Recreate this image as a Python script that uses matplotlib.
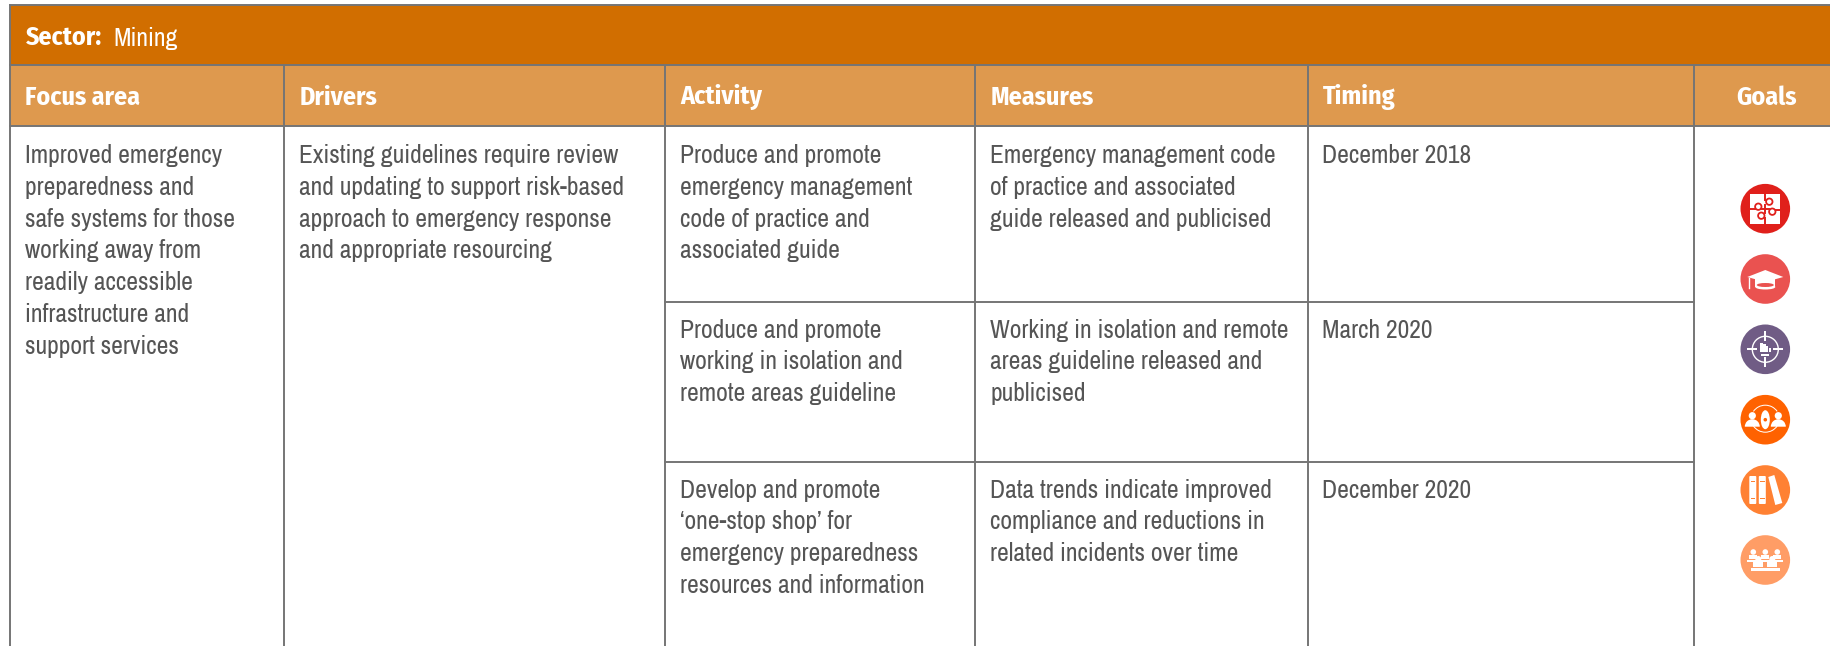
import matplotlib
matplotlib.use("Agg")
import matplotlib.pyplot as plt
from matplotlib.patches import Rectangle, Circle, Polygon, Ellipse, Wedge, FancyBboxPatch

plt.rcParams['font.family'] = ['Archivo Narrow', 'Roboto Condensed', 'Roboto', 'DejaVu Sans']
bold_font = ['Fira Sans Condensed', 'Roboto Condensed', 'Roboto', 'DejaVu Sans']

# Table content
sector_label = "Sector:"
sector_name = "Mining"
headers = ["Focus area", "Drivers", "Activity", "Measures", "Timing", "Goals"]
focus_area = ["Improved emergency", "preparedness and", "safe systems for those",
              "working away from", "readily accessible", "infrastructure and", "support services"]
drivers = ["Existing guidelines require review", "and updating to support risk-based",
           "approach to emergency response", "and appropriate resourcing"]
activities = [
    ["Produce and promote", "emergency management", "code of practice and", "associated guide"],
    ["Produce and promote", "working in isolation and", "remote areas guideline"],
    ["Develop and promote", "\u2018one-stop shop\u2019 for", "emergency preparedness",
     "resources and information"],
]
measures = [
    ["Emergency management code", "of practice and associated", "guide released and publicised"],
    ["Working in isolation and remote", "areas guideline released and", "publicised"],
    ["Data trends indicate improved", "compliance and reductions in", "related incidents over time"],
]
timing = ["December 2018", "March 2020", "December 2020"]
goal_colors = ["#e0201b", "#ea5250", "#705c85", "#ff6200", "#ff8133", "#ff9d66"]

# Layout in pixels
W, H = 1831, 646
col_x = [10.5, 284.5, 665.5, 975.5, 1308, 1694, 1831]
row_y = [126, 301.5, 462, 646]
top, sector_bot = 4.5, 65
pad = 15
line_h = 31.8
text_col = "#555555"
line_col = "#757575"
fs = 18.4
icon_x, icon_r = 1765.3, 24.8
icon_y = [208.7, 279, 349.3, 419.7, 490, 560]

fig = plt.figure(figsize=(W / 100, H / 100), dpi=100)
ax = fig.add_axes([0, 0, 1, 1])
ax.set_xlim(0, W)
ax.set_ylim(H, 0)
ax.axis("off")

# Bands
ax.add_patch(Rectangle((col_x[0], top), W - col_x[0], sector_bot - top, fc="#d16e00", ec="none"))
ax.add_patch(Rectangle((col_x[0], sector_bot), W - col_x[0], row_y[0] - sector_bot, fc="#de994e", ec="none"))

# Grid lines
ax.plot([col_x[0], W], [top, top], color=line_col, lw=1.4)
ax.plot([col_x[0], W], [sector_bot, sector_bot], color=line_col, lw=1.4)
ax.plot([col_x[0], W], [row_y[0], row_y[0]], color=line_col, lw=1.4)
ax.plot([col_x[0], col_x[0]], [top, H], color=line_col, lw=1.4)
for x in col_x[1:6]:
    ax.plot([x, x], [sector_bot, H], color=line_col, lw=1.4)
for y in row_y[1:3]:
    ax.plot([col_x[2], col_x[5]], [y, y], color=line_col, lw=1.4)

# Header text
ax.text(col_x[0] + pad, 38, sector_label, color="white", fontsize=18.6, family=bold_font,
        fontweight="bold", va="center")
ax.text(113, 38, sector_name, color="white", fontsize=fs, va="center")
for i, h in enumerate(headers):
    x = col_x[i] + pad
    if i == 5:
        x = 1736
    ax.text(x, 97.5, h, color="white", fontsize=18.7, family=bold_font, fontweight="bold", va="center")


def cell(x, y, lines):
    for i, s in enumerate(lines):
        ax.text(x + pad, y + i * line_h, s, color=text_col, fontsize=fs, va="center")


cell(col_x[0], 155.5, focus_area)
cell(col_x[1], 155.5, drivers)
rows_y = [155.5, 330, 490]
for j in range(3):
    cell(col_x[2], rows_y[j], activities[j])
    cell(col_x[3], rows_y[j], measures[j])
    cell(col_x[4] - 1, rows_y[j], [timing[j]])


# Goal icons, white glyphs on coloured discs
def wr(x, y, w, h, c="white", z=3):
    ax.add_patch(Rectangle((x, y), w, h, fc=c, ec="none", zorder=z))


def person(cx, cy, s=1.0):
    ax.add_patch(Circle((cx, cy), 3.6 * s, fc="white", ec="none", zorder=3))
    ax.add_patch(Wedge((cx, cy + 11 * s), 7.5 * s, 180, 360, fc="white", ec="none", zorder=3))


for cy, c in zip(icon_y, goal_colors):
    ax.add_patch(Circle((icon_x, cy), icon_r, fc=c, ec="none", zorder=2))

# puzzle
cy = icon_y[0]
col = goal_colors[0]
wr(icon_x - 15, cy - 15, 30, 30)
ax.plot([icon_x - 15, icon_x - 6], [cy, cy], color=col, lw=1.4, zorder=4)
ax.plot([icon_x + 6, icon_x + 15], [cy + 1, cy + 1], color=col, lw=1.4, zorder=4)
ax.plot([icon_x, icon_x], [cy - 15, cy - 9], color=col, lw=1.4, zorder=4)
ax.plot([icon_x, icon_x], [cy + 9, cy + 15], color=col, lw=1.4, zorder=4)
for dx, dy in [(-7, -2), (7, 3), (4, -7), (-4, 7)]:
    ax.add_patch(Circle((icon_x + dx, cy + dy), 3.2, fc="white", ec=col, lw=1.3, zorder=4))
ax.plot([icon_x, icon_x], [cy - 4, cy + 4], color=col, lw=1.4, zorder=4)
ax.plot([icon_x - 4, icon_x + 4], [cy, cy], color=col, lw=1.4, zorder=4)

# graduation cap
cy = icon_y[1]
col = goal_colors[1]
ax.add_patch(Polygon([(icon_x - 18, cy - 2), (icon_x, cy - 9), (icon_x + 18, cy - 2), (icon_x, cy + 3)],
                     fc="white", ec="none", zorder=3))
ax.add_patch(Rectangle((icon_x - 10, cy), 20, 8, fc="white", ec="none", zorder=3))
ax.add_patch(Ellipse((icon_x, cy + 8), 20, 5, fc="white", ec="none", zorder=3))
ax.add_patch(Ellipse((icon_x, cy + 6), 17, 4, fc=col, ec="none", zorder=4))
ax.plot([icon_x - 16, icon_x - 16], [cy - 1, cy + 9], color="white", lw=1, zorder=3)

# target
cy = icon_y[2]
ax.add_patch(Circle((icon_x, cy), 13, fc="none", ec="white", lw=1, zorder=3))
wr(icon_x - 18, cy - 1, 10, 2)
wr(icon_x + 8, cy - 1, 10, 2)
wr(icon_x - 1, cy - 18, 2, 10)
wr(icon_x - 1, cy + 8, 2, 10)
wr(icon_x - 5, cy - 6, 2.5, 9)
wr(icon_x - 2, cy - 5, 2.5, 8)
wr(icon_x + 1, cy - 3, 2, 6)
wr(icon_x + 4, cy - 1, 1.5, 4)
wr(icon_x - 4, cy + 5, 8, 2)

# people with a leaf
cy = icon_y[3]
col = goal_colors[3]
person(icon_x - 13, cy - 4)
person(icon_x + 13, cy - 4)
ax.add_patch(Ellipse((icon_x, cy), 9, 19, fc="white", ec="none", zorder=3))
ax.add_patch(Circle((icon_x, cy), 1.8, fc=col, ec="none", zorder=4))
ax.add_patch(Wedge((icon_x, cy), 15, 215, 325, width=1, fc="white", ec="none", zorder=3))
ax.add_patch(Wedge((icon_x, cy - 2), 15, 35, 145, width=1, fc="white", ec="none", zorder=3))

# books
cy = icon_y[4]
col = goal_colors[4]
for dx in [-16, -6.5]:
    ax.add_patch(FancyBboxPatch((icon_x + dx, cy - 14), 7, 28, boxstyle="round,pad=0,rounding_size=1",
                                fc="white", ec="none", zorder=3))
    wr(icon_x + dx + 1.5, cy - 9, 4.5, 1, col, 4)
    wr(icon_x + dx + 1.5, cy + 8, 4.5, 1, col, 4)
ax.add_patch(Polygon([(icon_x + 3, cy - 13), (icon_x + 9, cy - 15), (icon_x + 17, cy + 13), (icon_x + 10, cy + 15)],
                     fc="white", ec="none", zorder=3))

# group at desks
cy = icon_y[5]
for dx in [-12, 0, 12]:
    ax.add_patch(Circle((icon_x + dx, cy - 8), 2.8, fc="white", ec="none", zorder=3))
    wr(icon_x + dx - 4, cy - 5, 8, 4)
    wr(icon_x + dx - 6, cy, 12, 1.5)
for dx in [-7, 7]:
    ax.add_patch(Circle((icon_x + dx, cy - 1), 3, fc="white", ec="none", zorder=3))
    wr(icon_x + dx - 5, cy + 2, 10, 5)
wr(icon_x - 14.5, cy + 8, 29, 3)

fig.savefig("out.png", dpi=100)
